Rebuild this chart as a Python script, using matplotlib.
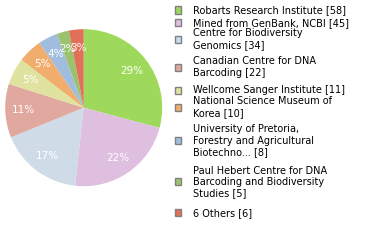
import matplotlib
matplotlib.use("Agg")
import matplotlib.pyplot as plt
from matplotlib.patches import Rectangle

labels = ["Robarts Research Institute [58]",
          "Mined from GenBank, NCBI [45]",
          "Centre for Biodiversity\nGenomics [34]",
          "Canadian Centre for DNA\nBarcoding [22]",
          "Wellcome Sanger Institute [11]",
          "National Science Museum of\nKorea [10]",
          "University of Pretoria,\nForestry and Agricultural\nBiotechno... [8]",
          "Paul Hebert Centre for DNA\nBarcoding and Biodiversity\nStudies [5]",
          "6 Others [6]"]
values = [58, 45, 34, 22, 11, 10, 8, 5, 6]
colors = ["#9ed95b", "#dfbfdf", "#cfdbe6", "#e0a89f", "#dfe39f",
          "#f0ad6b", "#a0bde0", "#9cc270", "#e07058"]

W, H = 380, 240
fig = plt.figure(figsize=(W/100, H/100), dpi=100)
cx, cy, r = 83.7, 107.7, 78.5
ax = fig.add_axes([(cx-r)/W, 1-(cy+r)/H, 2*r/W, 2*r/H])
total = sum(values)
pct = [f"{int(v*100/total)}%" for v in values]
wedges, texts = ax.pie(values, colors=colors, startangle=90, counterclock=False,
                       labels=pct, labeldistance=0.77,
                       wedgeprops=dict(linewidth=0),
                       textprops=dict(color="white", fontsize=7.5))
for t in texts:
    t.set_horizontalalignment("center")
    t.set_verticalalignment("center")
ax.set_xlim(-1, 1); ax.set_ylim(-1, 1)
ax.set_aspect("equal")
ax.axis("off")

centers = [10, 22.7, 39, 67, 90, 107, 140.7, 181.7, 212.7]
for lab, c, yc in zip(labels, colors, centers):
    fig.patches.append(Rectangle(((174.5)/W, 1-(yc+3.5)/H), 6.5/W, 7/H,
                                 transform=fig.transFigure, facecolor=c,
                                 edgecolor="#808080", linewidth=1))
    fig.text(193/W, 1-yc/H, lab, fontsize=7, color="black", va="center",
             ha="left", linespacing=1.15)

fig.savefig("out.png", dpi=100)
